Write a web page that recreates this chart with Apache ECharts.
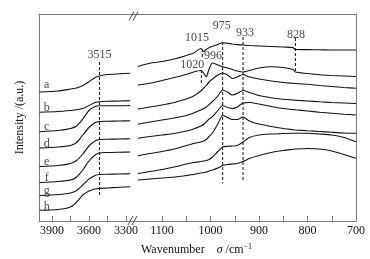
<!DOCTYPE html>
<html>
<head>
<meta charset="utf-8">
<script src="https://cdn.jsdelivr.net/npm/echarts@6/dist/echarts.min.js"></script>
<style>
  html, body { margin: 0; padding: 0; background: #fff; }
  #chart { width: 370px; height: 259px; }
</style>
</head>
<body>
<div id="chart"></div>
<script>
// wavenumbers (cm-1) on both sides of the axis break
const leftWave = [4000, 3850, 3750, 3700, 3650, 3600, 3550, 3515, 3450, 3350, 3265];
const rightWave = [1150, 1125, 1100, 1075, 1050, 1035, 1020, 1014, 1009, 1003, 996, 985, 975, 965,
  955, 945, 933, 920, 900, 875, 850, 830, 825, 800, 775, 750, 725, 700];

const leftTicks = [3900, 3750, 3600, 3450, 3300];
const leftLabels = [3900, 3600, 3300];
const rightTicks = [1100, 1050, 1000, 950, 900, 850, 800, 750, 700];
const rightLabels = [1100, 1000, 900, 800, 700];

const curveNames = ['a', 'b', 'c', 'd', 'e', 'f', 'g', 'h'];

// intensity (a.u., stacked offsets)
const aLeft = [129, 130, 132, 133, 135.5, 139.3, 143.5, 145, 146.5, 147.2, 147.7];
const bLeft = [108.7, 109.5, 110.5, 111.2, 112.5, 115.5, 118.5, 119.3, 119.7, 120, 120.3];
const cLeft = [89.3, 90.5, 92.5, 95, 102, 110.5, 114.5, 115.2, 115.3, 115.3, 115.5];
const dLeft = [73, 74, 75.5, 78.5, 86, 93.5, 98.5, 99.5, 99.8, 100, 100.2];
const eLeft = [54.5, 55.5, 57.5, 60.5, 67, 75, 80, 81.5, 81.8, 82, 82.2];
const fLeft = [38.5, 39.5, 41, 44, 51, 60, 66, 68, 68.5, 68.8, 69];
const gLeft = [25.5, 26.5, 28, 30.5, 36, 42, 45.5, 46.5, 46.8, 47, 47.2];
const hLeft = [10.7, 11.5, 14, 19, 26, 30, 32, 32.5, 33, 33.8, 34.3];

const aRight = [154.5, 157.7, 159.5, 162, 165.5, 168, 172.5, 169.5, 171.5, 173.2, 174.7, 176.5, 178.3, 177.7,
  177, 176.4, 176, 175.5, 175, 174.5, 174, 173.4, 171.5, 171.4, 171.2, 171, 171, 171];
const bRight = [136, 137.7, 140.5, 143.5, 146.5, 149, 150.5, 147.5, 144.3, 152, 158, 156, 154.3, 153,
  151.5, 150, 149, 150.5, 153, 154.3, 153.5, 151.5, 149, 147.5, 146.2, 145.5, 145, 144.5];
const cRight = [112, 114, 116, 118.5, 122, 125, 130, 133, 135.5, 139, 142, 146, 148, 146,
  142.5, 144, 146.5, 144, 142, 140, 138.5, 137.7, 137.5, 136.7, 135.5, 134.5, 133.5, 132.7];
const dRight = [96.7, 99, 101, 103, 105.5, 108, 111, 112.5, 114, 116.5, 119.5, 125, 131, 129,
  126, 127.5, 130.5, 128.5, 125.5, 123.3, 121.7, 121, 120.8, 120, 119.2, 118.5, 118, 117.5];
const eRight = [82.7, 84.5, 86, 87.5, 90, 92, 95, 96.5, 99, 102, 104.3, 110.5, 115.5, 113.5,
  112.5, 114, 118, 118.5, 117, 114.5, 112.5, 111.5, 111.2, 110, 108.7, 107.7, 106.8, 106];
const fRight = [65.3, 67.5, 69.5, 72, 75.5, 77.5, 79, 80, 81.5, 84.5, 88, 97, 105.5, 103.5,
  101.5, 101.5, 104, 100, 97, 94.5, 92.5, 91.3, 91, 90.2, 89.5, 88.7, 88, 87.7];
const gRight = [47.5, 49.5, 51.5, 54, 57, 58.5, 59.5, 60, 60.5, 61.5, 64, 69.5, 74, 74.7,
  75, 75.5, 79, 83.5, 86, 87, 87.5, 87.7, 87.7, 87.7, 87, 86, 83.5, 79.3];
const hRight = [41, 42, 43, 44, 45.5, 46.5, 48, 48.5, 49, 50, 51, 53, 55.5, 56.5,
  57, 57.5, 59.5, 62.5, 65.5, 68.5, 70.5, 71.7, 72, 72.5, 72, 70, 66.5, 62.7];

const leftCurves = [aLeft, bLeft, cLeft, dLeft, eLeft, fLeft, gLeft, hLeft];
const rightCurves = [aRight, bRight, cRight, dRight, eRight, fRight, gRight, hRight];

// dashed marker lines: [wavenumber, from, to]
const leftMarks = [[3515, 159, 26]];
const rightMarks = [[1017, 172, 162], [1019, 151, 138], [975, 179, 38], [933, 184, 41], [825, 183, 149]];

// peak annotations: [wavenumber, intensity, text]
const leftNotes = [[3515, 166, '3515']];
const rightNotes = [[1028, 183.5, '1015'], [977, 195, '975'], [929, 188, '933'], [824, 186, '828'],
  [1038, 156, '1020'], [995, 165, '996']];
const letterWave = 3943;
const letterLevels = [136, 113, 94, 77.5, 59, 43, 30.5, 14];

const FONT = 'Liberation Serif';
const INK = '#111';
const FRAME = '#7a7a7a';

const pairs = (xs, ys) => xs.map((x, i) => [x, ys[i]]);

const series = [];
curveNames.forEach((name, i) => {
  [[0, leftWave, leftCurves[i]], [1, rightWave, rightCurves[i]]].forEach(([k, xs, ys]) => {
    series.push({
      name: name,
      type: 'line',
      xAxisIndex: k,
      yAxisIndex: k,
      data: pairs(xs, ys),
      symbol: 'none',
      smooth: 0.25,
      lineStyle: { color: INK, width: 1.1 }
    });
  });
});

[[0, leftMarks], [1, rightMarks]].forEach(([k, marks]) => {
  marks.forEach(m => {
    series.push({
      type: 'line',
      xAxisIndex: k,
      yAxisIndex: k,
      data: [[m[0], m[1]], [m[0], m[2]]],
      symbol: 'none',
      lineStyle: { color: INK, width: 1, type: [3, 2] }
    });
  });
});

const noteSeries = (k, notes) => ({
  type: 'scatter',
  xAxisIndex: k,
  yAxisIndex: k,
  symbolSize: 0,
  data: notes,
  label: {
    show: true,
    position: 'inside',
    formatter: p => p.value[2],
    fontFamily: FONT,
    fontSize: 12,
    color: INK
  }
});
series.push(noteSeries(0, leftNotes));
series.push(noteSeries(1, rightNotes));
series.push(noteSeries(0, curveNames.map((n, i) => [letterWave, letterLevels[i], n])));

const bottomAxis = (k, min, max, ticks, labels) => ({
  gridIndex: k,
  type: 'value',
  position: 'bottom',
  inverse: true,
  min: min,
  max: max,
  axisLine: { show: true, lineStyle: { color: FRAME, width: 1 } },
  axisTick: { show: true, inside: true, length: 5, customValues: ticks, lineStyle: { color: FRAME } },
  axisLabel: {
    customValues: labels,
    formatter: v => String(v),
    margin: 4,
    fontFamily: FONT,
    fontSize: 12,
    color: INK
  },
  splitLine: { show: false }
});
const topAxis = (k, min, max) => ({
  gridIndex: k,
  type: 'value',
  position: 'top',
  inverse: true,
  min: min,
  max: max,
  axisLine: { show: true, lineStyle: { color: FRAME, width: 1 } },
  axisTick: { show: false },
  axisLabel: { show: false },
  splitLine: { show: false }
});
const sideAxis = (k, pos) => ({
  gridIndex: k,
  type: 'value',
  position: pos,
  min: 0,
  max: 207,
  axisLine: { show: true, lineStyle: { color: FRAME, width: 1 } },
  axisTick: { show: false },
  axisLabel: { show: false },
  splitLine: { show: false }
});

const breakMark = (x, y) => [0, 4].map(dx => ({
  type: 'line',
  shape: { x1: x + dx, y1: y + 4.5, x2: x + dx + 5, y2: y - 4.5 },
  style: { stroke: '#444', lineWidth: 1 },
  z: 100
}));

const option = {
  animation: false,
  backgroundColor: '#fff',
  grid: [
    { left: 39, right: 237, top: 14, bottom: 38 },
    { left: 133, right: 14, top: 14, bottom: 38 }
  ],
  xAxis: [
    bottomAxis(0, 3243, 4005, leftTicks, leftLabels),
    bottomAxis(1, 700, 1160, rightTicks, rightLabels),
    topAxis(0, 3243, 4005),
    topAxis(1, 700, 1160)
  ],
  yAxis: [
    Object.assign(sideAxis(0, 'left'), {
      name: 'Intensity /(a.u.)',
      nameLocation: 'middle',
      nameGap: 13,
      nameTextStyle: { fontFamily: FONT, fontSize: 12, color: INK }
    }),
    sideAxis(1, 'right')
  ],
  title: {
    text: 'Wavenumber    {i|σ} /cm{s|−1}',
    left: 141,
    top: 243,
    padding: 0,
    textStyle: {
      fontFamily: FONT,
      fontSize: 12,
      fontWeight: 'normal',
      color: INK,
      rich: {
        i: { fontFamily: FONT, fontSize: 12, fontStyle: 'italic', color: INK },
        s: { fontFamily: FONT, fontSize: 8, color: INK, verticalAlign: 'top', padding: [0, 0, 6, 0] }
      }
    }
  },
  graphic: [].concat(breakMark(129, 16), breakMark(128, 220.5)),
  series: series
};

const chart = echarts.init(document.getElementById('chart'), null, { renderer: 'canvas' });
chart.setOption(option);
</script>
</body>
</html>
